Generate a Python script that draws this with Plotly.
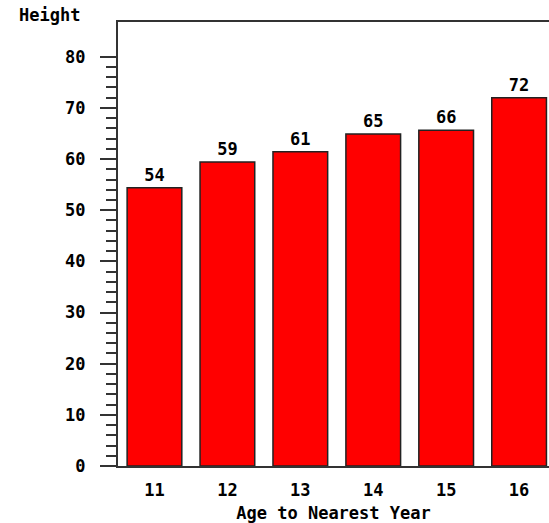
import plotly.graph_objects as go

ages = [11, 12, 13, 14, 15, 16]
mean_height = [54.4, 59.44, 61.43, 64.9, 65.63, 72.0]
y_title = "Height"
x_title = "Age to Nearest Year"
y_major_max = 80
y_minor_step = 2

FONT = "DejaVu Sans Mono"
font = dict(family=FONT, size=17, color="black", weight="bold")

minor_vals = [v for v in range(0, y_major_max + 1, y_minor_step) if v % 10 != 0]

fig = go.Figure(go.Bar(
    x=ages, y=mean_height,
    width=0.75,
    marker=dict(color="#FF0000", line=dict(color="#222222", width=1.5)),
    text=mean_height, texttemplate="%{y:.0f}", textposition="outside",
    textfont=font, cliponaxis=False, constraintext="none",
))

W, H = 549, 523
L, R, T, B = 118, 0, 22, 57

fig.update_layout(
    width=W, height=H,
    margin=dict(l=L, r=R, t=T, b=B, pad=0),
    paper_bgcolor="white", plot_bgcolor="white",
    showlegend=False,
    font=font,
    xaxis=dict(
        range=[10.5, 16.41], tickmode="array", tickvals=ages,
        showline=True, linecolor="#333333", linewidth=2, mirror=True,
        ticks="", showgrid=False, zeroline=False,
        tickfont=font, ticklabelstandoff=8,
        title=dict(text=x_title, font=font, standoff=8),
    ),
    yaxis=dict(
        range=[0, 86.8], tickmode="linear", tick0=0, dtick=10,
        showline=True, linecolor="#333333", linewidth=2, mirror=False,
        ticks="outside", ticklen=16, tickwidth=2, tickcolor="#333333",
        minor=dict(tickmode="array", tickvals=minor_vals, ticks="outside",
                   ticklen=10, tickwidth=1.5, tickcolor="#333333"),
        showgrid=False, zeroline=False,
        tickfont=font, ticklabelstandoff=11,
    ),
    annotations=[dict(
        text=y_title, xref="paper", yref="paper",
        x=(17 - L) / (W - L - R), y=1 + (T - 15) / (H - T - B),
        xanchor="left", yanchor="middle", showarrow=False, font=font,
    )],
)

fig.write_html("out.html", config={"displayModeBar": False},
               post_script="document.body.style.margin='0';document.body.style.overflow='hidden';")
